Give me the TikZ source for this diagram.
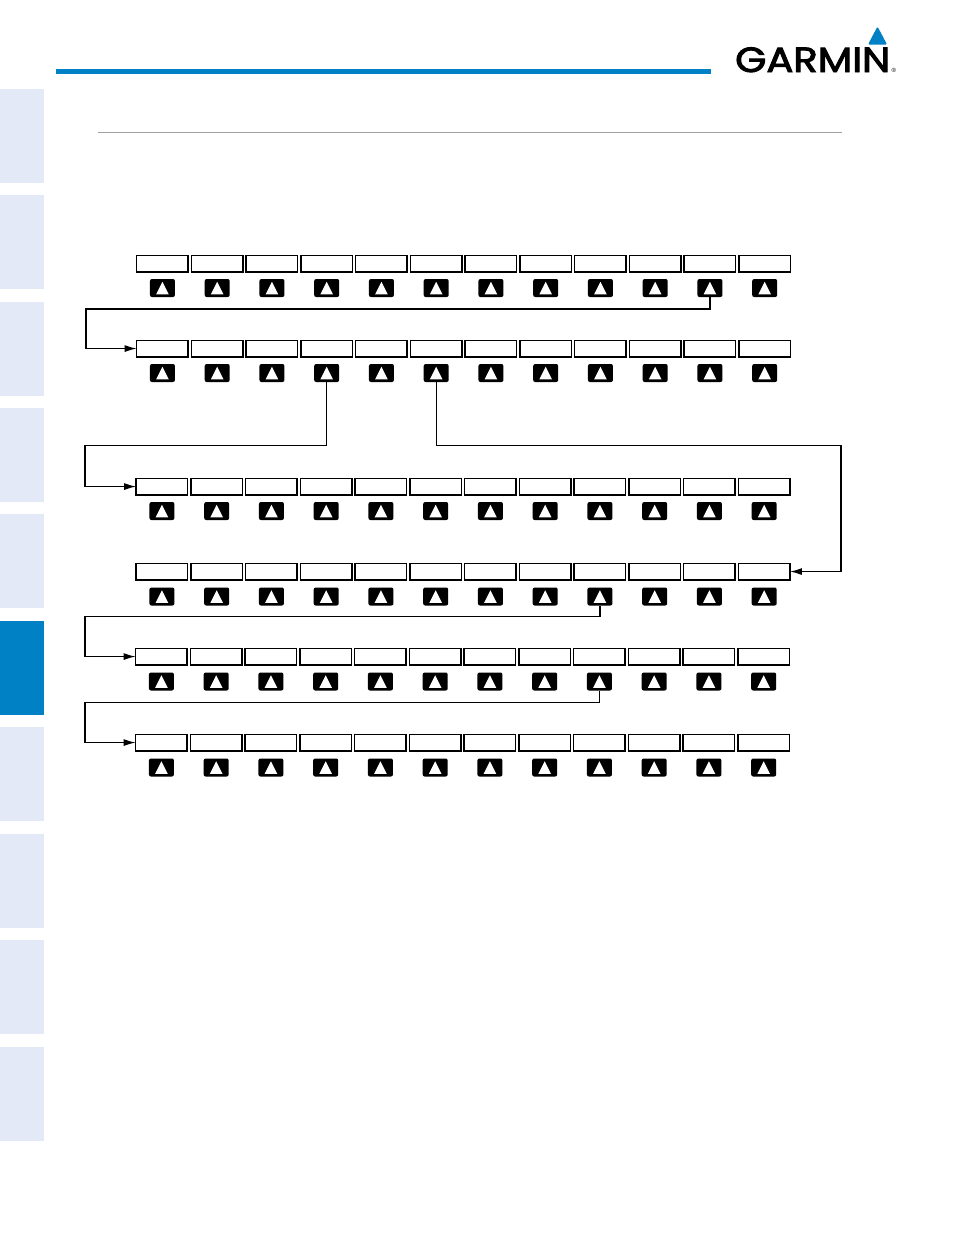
\documentclass[tikz,border=0pt]{standalone}
\usepackage{fontspec}
\newfontfamily\logofont[FakeBold=2.6]{Poppins}
\newfontfamily\regfont{Liberation Sans}
\usetikzlibrary{arrows.meta,positioning,calc}
\definecolor{GarminBlue}{HTML}{0080C5}
\definecolor{TabPale}{HTML}{E3E9F7}
\definecolor{RuleGray}{HTML}{A0A0A0}
\tikzset{
  softkey/.style={draw=black, fill=white, line width=1.5pt, minimum width=51.5pt,
                  minimum height=16.5pt, inner sep=0pt, outer sep=0pt},
  keybtn/.style={fill=black, rounded corners=2pt, minimum width=25pt,
                 minimum height=18pt, inner sep=0pt, outer sep=0pt},
  flow/.style={-{Latex[length=12pt,width=7pt]}, line width=1.3pt, black},
  sidetab/.style={fill=TabPale, draw=none, minimum width=44pt, minimum height=94pt,
                  inner sep=0pt, outer sep=0pt, anchor=north west},
}

\begin{document}
\begin{tikzpicture}[x=1pt,y=-1pt]
  \useasboundingbox (0,0) rectangle (954,1235);

  % side tabs
  \foreach \t/\ytab in {1/89,2/195,3/302,4/408,5/514,7/727,8/834,9/940,10/1047}
    \node[sidetab] (tab-\t) at (0,\ytab) {};
  \node[sidetab, fill=GarminBlue] (tab-6) at (0,621) {};

  % header
  \fill[GarminBlue] (56,69) rectangle (711,73.5);
  \draw[RuleGray, line width=0.8pt] (98,132.5) -- (842,132.5);
  \fill[GarminBlue, rounded corners=1.2pt] (877.5,26.5) -- (887,44.5) -- (868,44.5) -- cycle;
  \node[inner sep=0pt, anchor=base west, xscale=1.145] (logo) at (735,72)
        {\logofont\fontsize{35}{35}\selectfont GARMIN};
  \node[inner sep=0pt, anchor=base west] (logoreg) at (891.5,72.5)
        {\regfont\fontsize{6}{6}\selectfont ®};

  % softkey rows: row / top of key / left edge / top of button
  \foreach \r/\ykey/\xkey/\ybtn in {1/255.3/136.7/279, 2/340.3/136.7/364, 3/478.3/136.2/502,
                                    4/563.3/136.2/587.5, 5/648.3/135.7/672.5, 6/734.3/135.7/758.5} {
    \foreach \c in {1,...,12} {
      \node[softkey, anchor=north west] (key-\r-\c) at ({\xkey+(\c-1)*54.75},\ykey) {};
      \node[keybtn, anchor=north] (btn-\r-\c) at ($(key-\r-\c.north)+(0,\ybtn-\ykey)$) {};
      \fill[white] ($(btn-\r-\c.center)+(0,-6.2)$) -- ++(6.3,12.6) -- ++(-12.6,0) -- cycle;
    }
  }

  % rails
  \coordinate (railA) at (86,309);
  \coordinate (railB) at (85,445.5);
  \coordinate (railC) at (841,445.5);
  \coordinate (railD) at (85,616.5);
  \coordinate (railE) at (85,702.5);

  % connectors
  \draw[flow] (btn-1-11.south) |- (railA) |- (key-2-1.west);
  \draw[flow] (btn-2-4.south) |- (railB) |- (key-3-1.west);
  \draw[flow] (btn-2-6.south) |- (railC) |- (key-4-12.east);
  \draw[flow] (btn-4-9.south) |- (railD) |- (key-5-1.west);
  \draw[flow] (btn-5-9.south) |- (railE) |- (key-6-1.west);

\end{tikzpicture}
\end{document}
